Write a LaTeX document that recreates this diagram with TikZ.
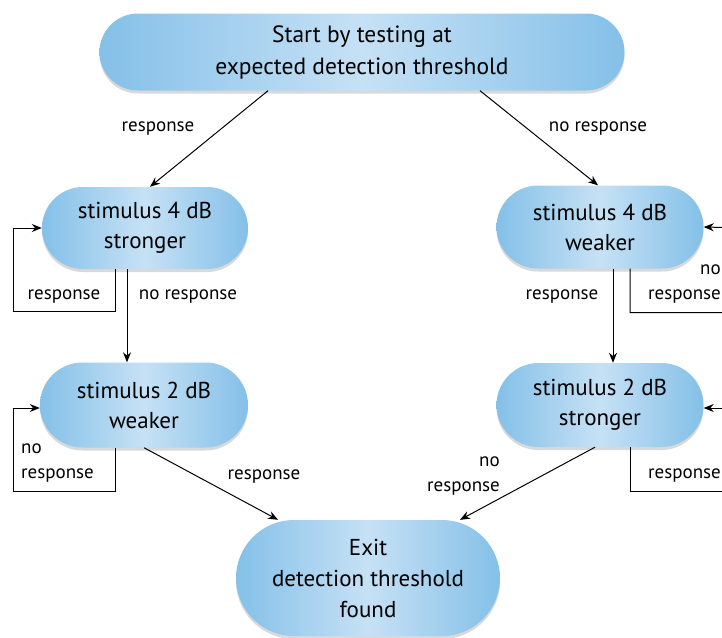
\documentclass[tikz,border=0pt]{standalone}
\usepackage{fontspec}
\setmainfont{PT Sans}
\usetikzlibrary{shapes.misc,shadows,arrows.meta}
\definecolor{pillblue}{RGB}{132,192,232}
\definecolor{pilllight}{RGB}{198,225,245}
\begin{document}
\begin{tikzpicture}[x=1pt,y=-1pt,
		pill/.style={rounded rectangle,draw=none,left color=pillblue,right color=pillblue,middle color=pilllight,
			drop shadow={opacity=.3,shadow xshift=0pt,shadow yshift=-3pt},
			align=center,font=\fontsize{23}{30}\selectfont,inner sep=0pt},
		lbl/.style={font=\fontsize{19}{25}\selectfont,inner sep=0pt},
		arr/.style={-{Stealth[length=10pt,width=8pt]},line width=1pt}]
		\clip (0,0) rectangle (722,637);
		\node[pill,minimum width=525pt,minimum height=77pt,font=\fontsize{23.5}{32}\selectfont] (start) at (362,52) {Start by testing at\\expected detection threshold};
		\node[pill,minimum width=206pt,minimum height=82pt] (sfour) at (145,228) {stimulus 4 dB\\stronger};
		\node[pill,minimum width=207pt,minimum height=83pt] (sfourw) at (600,227) {stimulus 4 dB\\weaker};
		\node[pill,minimum width=208pt,minimum height=85pt] (stwo) at (144,405) {stimulus 2 dB\\weaker};
		\node[pill,minimum width=207pt,minimum height=84pt] (stwos) at (600,405) {stimulus 2 dB\\stronger};
		\node[pill,minimum width=264pt,minimum height=116pt,font=\fontsize{23}{31}\selectfont] (exit) at (368,578) {Exit\\detection threshold\\found};
		\draw[arr] ([xshift=-94pt]start.south) -- ([xshift=5pt]sfour.north);
		\draw[arr] ([xshift=118pt]start.south) -- ([xshift=-2pt]sfourw.north);
		\draw[arr] ([xshift=-30pt]sfour.south) -- ++(0,42) -| (13,228) -- (sfour.west);
		\draw[arr] ([xshift=-18pt]sfour.south) -- ([xshift=-17pt]stwo.north);
		\draw[arr] ([xshift=-29pt]stwo.south) -- ++(0,44) -| (13,408) -- ([yshift=-3pt]stwo.west);
		\draw[arr] (stwo.south) -- ([xshift=-90pt]exit.north);
		\draw[arr] ([xshift=30pt]sfourw.south) -- ++(0,44) -| (745,228) -- (sfourw.east);
		\draw[arr] ([xshift=13pt]sfourw.south) -- ([xshift=13pt]stwos.north);
		\draw[arr] ([xshift=30pt]stwos.south) -- ++(0,44) -| (745,408) -- ([yshift=-3pt]stwos.east);
		\draw[arr] ([xshift=-5pt]stwos.south) -- ([xshift=92pt]exit.north);
		\node[lbl] (lresp) at (158,129) {response};
		\node[lbl] (lnoresp) at (598,129) {no response};
		\node[lbl] (lloopa) at (64,297) {response};
		\node[lbl] (ldowna) at (188,297) {no response};
		\node[lbl,align=left,anchor=west] (lloopb) at (21,463) {no\\response};
		\node[lbl] (lexita) at (264,477) {response};
		\node[lbl] (ldownb) at (562,297) {response};
		\node[lbl,align=right,anchor=east] (lloopc) at (721,284) {no\\response};
		\node[lbl,align=right,anchor=east] (lexitb) at (500,476) {no\\response};
		\node[lbl,anchor=east] (lloopd) at (721,476) {response};
\end{tikzpicture}
\end{document}
